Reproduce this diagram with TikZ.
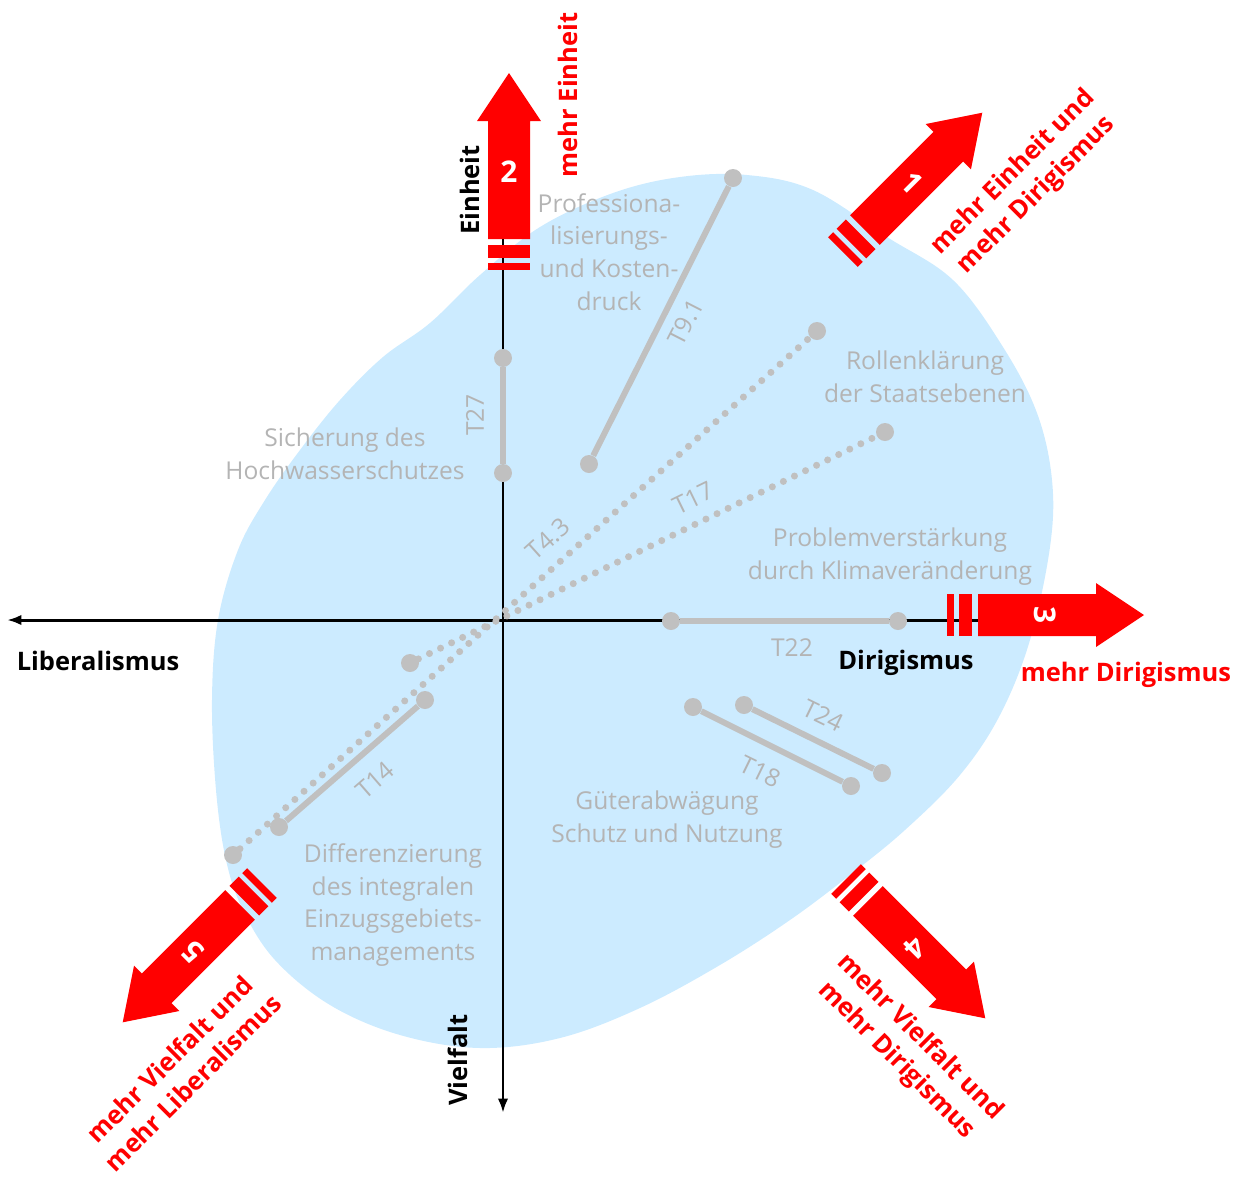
\documentclass[tikz,border=0pt]{standalone}
\usepackage{fontspec}
\setmainfont{Open Sans}
\usepackage{tikz}
\usetikzlibrary{arrows,arrows.meta}
\usetikzlibrary{calc}
\usetikzlibrary{positioning}
\definecolor{arrowred}{RGB}{255,0,0}
\definecolor{blobblue}{RGB}{204,235,255}
\definecolor{seggray}{RGB}{192,192,192}
\definecolor{labgray}{RGB}{180,180,180}
\tikzstyle{input} = [coordinate]
\tikzstyle{output} = [coordinate]
\tikzstyle{axis} = [draw, line width=1.7pt]
\tikzstyle{dot} = [circle, fill=seggray, inner sep=0pt, minimum size=0.36cm]
\tikzstyle{seg} = [draw=seggray, line width=3.4pt]
\tikzstyle{dotseg} = [draw=seggray, line width=4pt, line cap=round, dash pattern=on 0pt off 7pt]
\tikzstyle{topic} = [text=labgray, font=\fontsize{14}{18.7}\selectfont, align=center]
\tikzstyle{tlab} = [text=labgray, font=\fontsize{14}{18.7}\selectfont, inner sep=0pt]
\tikzstyle{axislab} = [font=\fontsize{14.5}{18}\selectfont\bfseries]
\tikzstyle{redlab} = [text=arrowred, font=\fontsize{14.5}{18.7}\selectfont\bfseries, align=center]
\tikzstyle{arrownum} = [text=white, font=\fontsize{17}{20}\selectfont\bfseries, inner sep=0pt]
% big red arrow: start, angle, digit, name
\newcommand{\bigarrow}[4]{%
  \begin{scope}[shift={#1}, rotate=#2]
    \fill[arrowred] (0,-21) rectangle (7,21);
    \fill[arrowred] (12,-21) rectangle (25,21);
    \fill[arrowred] (31,-21) -- (149,-21) -- (149,-32) -- (197,0) -- (149,32) -- (149,21) -- (31,21) -- cycle;
    \node[arrownum, rotate={#2-90}] (#4) at (98,0) {#3};
  \end{scope}}

\begin{document}
\begin{tikzpicture}[>={Latex[length=2.9mm,width=2.1mm]}, x=0.02cm, y=-0.02cm]
  \useasboundingbox (0,0) rectangle (1249,1178);
  % blob
  \fill[blobblue] plot[smooth cycle, tension=0.6] coordinates {
    (747,175) (813,190) (887,237) (953,280) (1003,347) (1037,413) (1052,480)
    (1050,547) (1030,640) (1000,715) (960,775) (905,830) (850,875) (790,920)
    (720,965) (640,1008) (560,1038) (480,1048) (400,1035) (330,1005) (275,960)
    (243,910) (226,860) (216,790) (212,700) (218,620) (238,550) (265,500)
    (300,450) (340,400) (383,357) (430,323) (480,275) (540,227) (613,193) (680,177)};

  % axes
  \node [input, name=etop] at (503,238) {};
  \node [output, name=ebot] at (503,1113) {};
  \node [input, name=dright] at (978,620) {};
  \node [output, name=lleft] at (7,620) {};
  \draw [axis,->] (etop) -- (ebot);
  \draw [axis,->] (dright) -- (lleft);

  % topics
  \node [dot] (t91a) at (589,464) {};
  \node [dot] (t91b) at (733,178) {};
  \draw [seg] (t91a) -- (t91b);
  \node [dot] (t27a) at (503,358) {};
  \node [dot] (t27b) at (503,473) {};
  \draw [seg] (t27a) -- (t27b);
  \node [dot] (t43a) at (233,855) {};
  \node [dot] (t43b) at (817,331) {};
  \draw [dotseg] (t43a) -- (t43b);
  \node [dot] (t17a) at (410,663) {};
  \node [dot] (t17b) at (885,432) {};
  \draw [dotseg] (t17a) -- (t17b);
  \node [dot] (t22a) at (671,621) {};
  \node [dot] (t22b) at (898,621) {};
  \draw [seg] (t22a) -- (t22b);
  \node [dot] (t24a) at (744,705) {};
  \node [dot] (t24b) at (882,773) {};
  \draw [seg] (t24a) -- (t24b);
  \node [dot] (t18a) at (693,707) {};
  \node [dot] (t18b) at (851,786) {};
  \draw [seg] (t18a) -- (t18b);
  \node [dot] (t14a) at (279,827) {};
  \node [dot] (t14b) at (425,700) {};
  \draw [seg] (t14a) -- (t14b);

  \node [tlab, rotate=63] (t91l) at (686,322) {T9.1};
  \node [tlab, rotate=90] (t27l) at (475,415) {T27};
  \node [tlab, rotate=42] (t43l) at (548,539) {T4.3};
  \node [tlab, rotate=26] (t17l) at (693,498) {T17};
  \node [tlab] (t22l) at (792,648) {T22};
  \node [tlab, rotate=-26] (t24l) at (823,716) {T24};
  \node [tlab, rotate=-26] (t18l) at (760,772) {T18};
  \node [tlab, rotate=41] (t14l) at (375,780) {T14};

  \node [topic] (prof) at (609,252) {Professiona-\\lisierungs-\\und Kosten-\\druck};
  \node [topic] (hochw) at (345,454) {Sicherung des\\Hochwasserschutzes};
  \node [topic] (rollen) at (925,377) {Rollenklärung\\der Staatsebenen};
  \node [topic] (klima) at (890,557) {Problemverstärkung\\durch Klimaveränderung};
  \node [topic] (gueter) at (667,820) {Güterabwägung\\Schutz und Nutzung};
  \node [topic] (ezg) at (393,905) {Differenzierung\\des integralen\\Einzugsgebiets-\\managements};

  % red arrows
  \bigarrow{(509,270)}{90}{2}{num2}
  \bigarrow{(947,615)}{0}{3}{num3}
  \bigarrow{(843,252)}{45}{1}{num1}
  \bigarrow{(846,879)}{-45}{4}{num4}
  \bigarrow{(262,883)}{225}{5}{num5}

  % axis labels
  \node [axislab, rotate=90] (einheit) at (470,190) {Einheit};
  \node [axislab, rotate=90] (vielfalt) at (458,1060) {Vielfalt};
  \node [axislab] (liberal) at (98,661) {Liberalismus};
  \node [axislab] (dirig) at (906,663) {Dirigismus};

  \node [redlab, rotate=90] (mehrE) at (568,95) {mehr Einheit};
  \node [redlab] (mehrD) at (1126,675) {mehr Dirigismus};
  \node [redlab, rotate=45] (mehrED) at (1025,184) {mehr Einheit und\\mehr Dirigismus};
  \node [redlab, rotate=-45] (mehrVD) at (908,1049) {mehr Vielfalt und\\mehr Dirigismus};
  \node [redlab, rotate=45] (mehrVL) at (181,1071) {mehr Vielfalt und\\mehr Liberalismus};
\end{tikzpicture}
\end{document}
